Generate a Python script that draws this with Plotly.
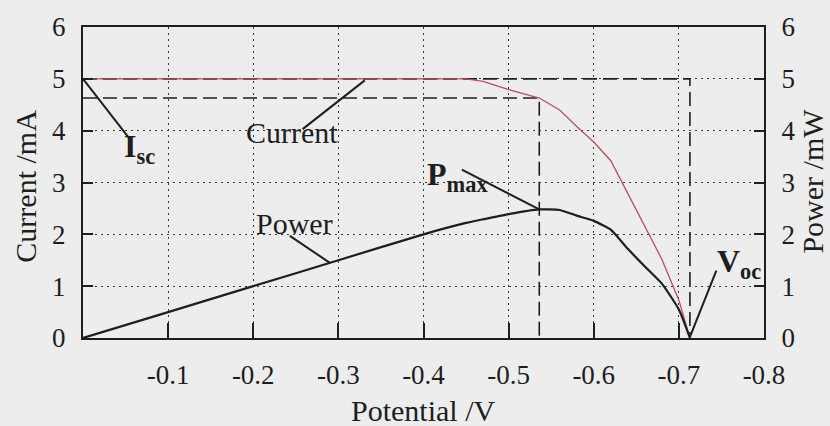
import plotly.graph_objects as go

# Photovoltaic cell sweep: potential (V), current (mA), power (mW)
potential = [0.0, -0.1, -0.2, -0.3, -0.4, -0.45, -0.47, -0.5, -0.536, -0.56,
             -0.58, -0.6, -0.62, -0.64, -0.66, -0.68, -0.70, -0.713]
current = [5.0, 5.0, 5.0, 5.0, 5.0, 5.0, 4.95, 4.79, 4.63, 4.40,
           4.08, 3.78, 3.42, 2.78, 2.15, 1.52, 0.73, 0.0]
power = [0.0, 0.5, 1.0, 1.5, 2.0, 2.22, 2.29, 2.39, 2.48, 2.47,
         2.36, 2.26, 2.09, 1.72, 1.38, 1.05, 0.55, 0.0]

# Characteristic points
isc = 5.0       # short-circuit current, mA
voc = -0.713    # open-circuit potential, V
v_mp = -0.536   # potential at maximum power, V
i_mp = 4.63     # current at maximum power, mA
p_max = 2.48    # maximum power, mW

x_ticks = [-0.1, -0.2, -0.3, -0.4, -0.5, -0.6, -0.7, -0.8]
x_tick_text = ["-0.1", "-0.2", "-0.3", "-0.4", "-0.5", "-0.6", "-0.7", "-0.8"]
y_ticks = [0, 1, 2, 3, 4, 5, 6]

FONT = "Liberation Serif"
INK = "#1e1e1e"
BG = "#ededed"

fig = go.Figure()

# Guide rectangles for Isc/Voc and the maximum power point
fig.add_trace(go.Scatter(
    x=[0, voc, voc], y=[isc, isc, 0], mode="lines",
    line=dict(color=INK, width=1.6, dash="14px,6px"), hoverinfo="skip"))
fig.add_trace(go.Scatter(
    x=[0, v_mp, v_mp], y=[i_mp, i_mp, 0], mode="lines",
    line=dict(color=INK, width=1.6, dash="14px,6px"), hoverinfo="skip"))

fig.add_trace(go.Scatter(
    x=potential, y=current, mode="lines", name="Current",
    line=dict(color="#b8505e", width=1.3)))
fig.add_trace(go.Scatter(
    x=potential, y=power, mode="lines", name="Power", yaxis="y2",
    line=dict(color=INK, width=2.2, shape="spline", smoothing=0.5)))

# Leader lines from labels to the curves
leaders = [
    (0.0, isc, -0.053, 3.88),
    (-0.258, 4.03, -0.331, 4.97),
    (-0.243, 1.97, -0.290, 1.45),
    (-0.445, 3.25, v_mp, p_max),
    (-0.744, 1.30, voc, 0.02),
]
for x0, y0, x1, y1 in leaders:
    fig.add_shape(type="line", xref="x", yref="y", x0=x0, y0=y0, x1=x1, y1=y1,
                  line=dict(color=INK, width=2))

labels = [
    ("<b>I</b><sub><b>sc</b></sub>", -0.046, 3.22, 32, "left", "bottom"),
    ("Current", -0.245, 3.96, 30, "center", "middle"),
    ("Power", -0.249, 2.20, 30, "center", "middle"),
    ("<b>P</b><sub><b>max</b></sub>", -0.402, 2.69, 32, "left", "bottom"),
    ("<b>V</b><sub><b>oc</b></sub>", -0.742, 1.01, 32, "left", "bottom"),
]
for text, x, y, size, xa, ya in labels:
    fig.add_annotation(x=x, y=y, xref="x", yref="y", text=text, showarrow=False,
                       xanchor=xa, yanchor=ya, font=dict(family=FONT, size=size, color=INK))

# Axis titles
fig.add_annotation(x=0.499, y=-0.232, xref="paper", yref="paper", text="Potential /V",
                   showarrow=False, xanchor="center", yanchor="middle",
                   font=dict(family=FONT, size=30, color=INK))
fig.add_annotation(x=-0.085, y=0.487, xref="paper", yref="paper", text="Current /mA",
                   showarrow=False, textangle=-90, xanchor="center", yanchor="middle",
                   font=dict(family=FONT, size=30, color=INK))
fig.add_annotation(x=1.072, y=0.503, xref="paper", yref="paper", text="Power /mW",
                   showarrow=False, textangle=-90, xanchor="center", yanchor="middle",
                   font=dict(family=FONT, size=30, color=INK))

grid = dict(showgrid=True, gridcolor="#3a3a3a", gridwidth=1.4, griddash="2px,4px")

fig.update_layout(
    width=830, height=426,
    margin=dict(l=83, r=66, t=24, b=88),
    paper_bgcolor=BG, plot_bgcolor=BG,
    showlegend=False,
    font=dict(family=FONT, size=27, color=INK),
    xaxis=dict(range=[0, -0.8], tickvals=x_ticks, ticktext=x_tick_text,
               ticks="inside", ticklen=15, tickwidth=1.6, tickcolor=INK,
               showline=True, linecolor=INK, linewidth=2, mirror=True,
               ticklabelstandoff=12, zeroline=False, **grid),
    yaxis=dict(range=[0, 6], tickvals=y_ticks, ticks="inside", ticklen=10,
               tickwidth=1.6, tickcolor=INK, showline=True, linecolor=INK,
               linewidth=2, ticklabelstandoff=10, zeroline=False, **grid),
    yaxis2=dict(range=[0, 6], tickvals=y_ticks, overlaying="y", side="right",
                ticks="inside", ticklen=10, tickwidth=1.6, tickcolor=INK,
                showline=True, linecolor=INK, linewidth=2, ticklabelstandoff=10,
                showgrid=False, zeroline=False),
)

fig.write_html("out.html")
